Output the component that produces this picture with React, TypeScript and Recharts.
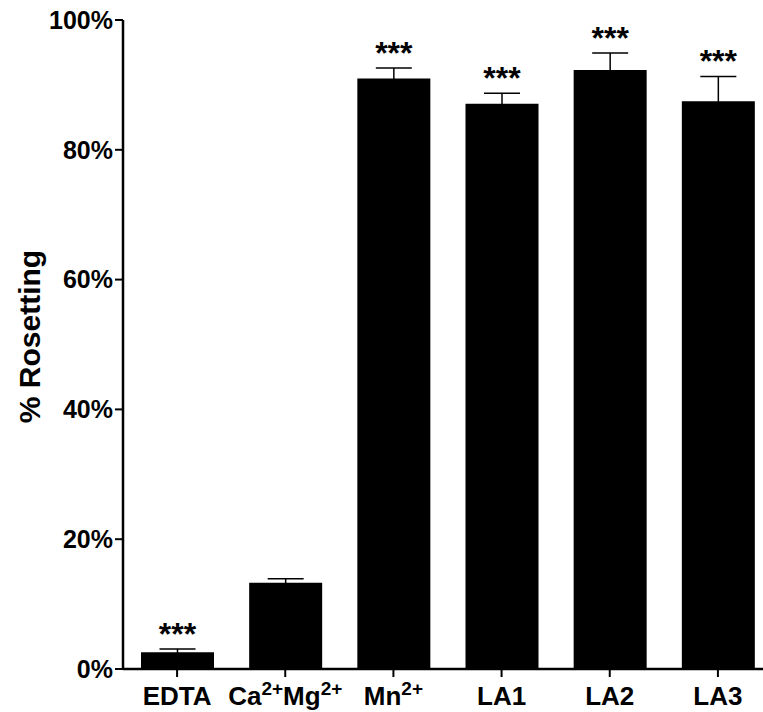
import { BarChart, Bar, XAxis, YAxis, ErrorBar, LabelList } from 'recharts';

const groups = ['EDTA', 'Ca2+Mg2+', 'Mn2+', 'LA1', 'LA2', 'LA3'];
const rosetting = [2.6, 13.3, 91.0, 87.1, 92.3, 87.5];
const sem = [0.5, 0.6, 1.6, 1.6, 2.6, 3.8];
const stars = ['***', '', '***', '***', '***', '***'];
const yTicks = [0, 20, 40, 60, 80, 100];

const data = groups.map((g, i) => ({ group: g, value: rosetting[i], err: sem[i], sig: stars[i] }));

const FONT = '"Liberation Sans", Arial, Helvetica, sans-serif';

// ion labels: "Ca2+" -> Ca with superscript 2+
function renderLabel(label: string) {
  if (!label.includes('+')) return [<tspan key="t">{label}</tspan>];
  const out: any[] = [];
  const re = /([A-Za-z]+)(\d\+)/g;
  let m: RegExpExecArray | null;
  let raised = false;
  let i = 0;
  while ((m = re.exec(label)) !== null) {
    out.push(<tspan key={i + 'a'} dy={raised ? 10 : 0} fontSize={26}>{m[1]}</tspan>);
    out.push(<tspan key={i + 'b'} dy={-10} fontSize={19}>{m[2]}</tspan>);
    raised = true;
    i++;
  }
  return out;
}

function GroupTick(props: any) {
  const { x, y, payload } = props;
  return (
    <text x={x} y={y + 26} textAnchor="middle" fontFamily={FONT} fontWeight="bold" fontSize={26} fill="#000">
      {renderLabel(payload.value)}
    </text>
  );
}

function StarLabel(props: any) {
  const { x, y, width, height, index } = props;
  const d = data[index];
  if (!d || !d.sig) return null;
  const perUnit = height / d.value;
  const top = y - d.err * perUnit;
  return (
    <text x={x + width / 2} y={top - 4} textAnchor="middle" fontFamily={FONT} fontWeight="bold" fontSize={32} fill="#000">
      {d.sig}
    </text>
  );
}

function YTitle(props: any) {
  const vb = props.viewBox || {};
  const cx = 29;
  const cy = vb.y + vb.height / 2 - 8;
  return (
    <text x={cx} y={cy} transform={`rotate(-90, ${cx}, ${cy})`} textAnchor="middle" dominantBaseline="central"
      fontFamily={FONT} fontWeight="bold" fontSize={30} fill="#000">
      % Rosetting
    </text>
  );
}

export default function App() {
  return (
    <div style={{ position: 'fixed', top: 0, left: 0, width: 763, height: 712, overflow: 'hidden', background: '#fff' }}>
      <BarChart width={772} height={712} data={data} margin={{ top: 20, right: 0, left: 0, bottom: 0 }}>
        <XAxis
          dataKey="group"
          height={43}
          tick={<GroupTick />}
          tickSize={8}
          axisLine={{ stroke: '#000', strokeWidth: 2.5 }}
          tickLine={{ stroke: '#000', strokeWidth: 2 }}
          interval={0}
        />
        <YAxis
          width={123}
          domain={[0, 100]}
          ticks={yTicks}
          tickFormatter={(v) => `${v}%`}
          tickSize={8}
          tick={{ fontFamily: FONT, fontWeight: 'bold', fontSize: 25, fill: '#000' }}
          axisLine={{ stroke: '#000', strokeWidth: 2.5 }}
          tickLine={{ stroke: '#000', strokeWidth: 2 }}
          label={<YTitle />}
        />
        <Bar dataKey="value" fill="#000" barSize={73} isAnimationActive={false}>
          <ErrorBar dataKey="err" direction="y" width={18} stroke="#000" strokeWidth={1.5} />
          <LabelList dataKey="sig" content={<StarLabel />} />
        </Bar>
      </BarChart>
    </div>
  );
}
